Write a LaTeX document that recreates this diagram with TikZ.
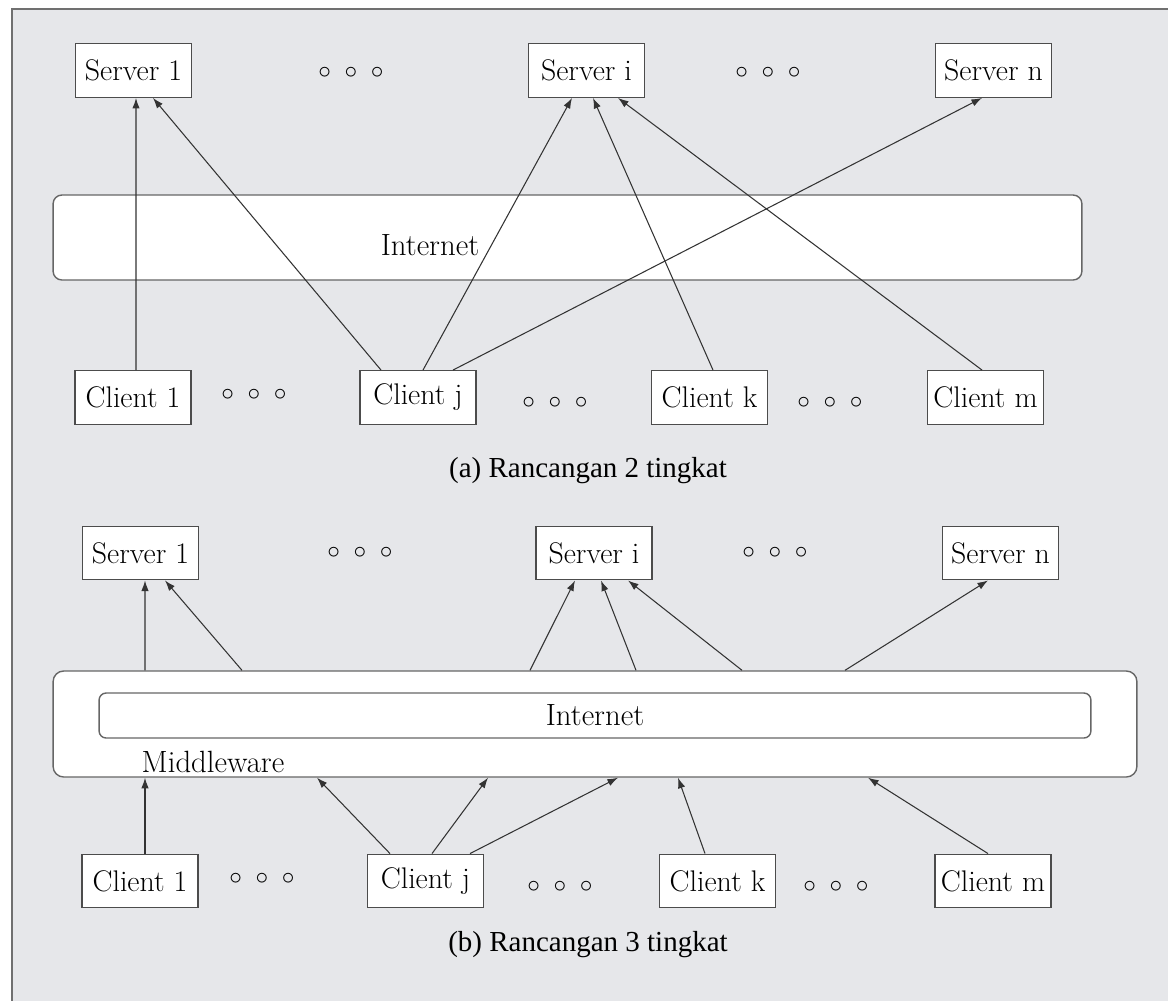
\documentclass[tikz,border=0pt]{standalone}
\usepackage{fontspec}
\newfontfamily\capfont{Liberation Serif}
\usetikzlibrary{arrows.meta,calc}
\definecolor{panel}{RGB}{230,231,234}
\definecolor{frame}{RGB}{112,112,112}
\begin{document}
\begin{tikzpicture}[
    x=0.02cm, y=-0.02cm,
    hostbox/.style={rectangle, draw=black!70, fill=white, line width=0.8pt,
                    minimum width=2.32cm, minimum height=1.07cm, inner sep=0pt,
                    font=\fontsize{17}{20}\selectfont},
    netbox/.style={rectangle, draw=black!60, fill=white, line width=0.8pt,
                   rounded corners=5pt, inner sep=0pt},
    txt/.style={font=\fontsize{17.5}{20}\selectfont, inner sep=0pt},
    ddd/.style={font=\fontsize{15}{18}\selectfont, inner sep=0pt},
    captxt/.style={font=\capfont\fontsize{16.5}{20}\selectfont, inner sep=0pt},
    link/.style={-{Latex[length=6pt,width=4.2pt]}, line width=0.6pt, black!80}
]
    \useasboundingbox (0,0) rectangle (1168,1001);
    \fill[panel] (11,9) rectangle (1168,1001);
    \draw[frame, line width=1.1pt] (11,9) -- (1168,9);
    \draw[frame, line width=1.7pt] (12,9) -- (12,1001);

    % (a) two tiers
    \node[hostbox] (s1a) at (133.5,70.5) {Server 1};
    \node[hostbox] (sia) at (586.5,70.5) {Server i};
    \node[hostbox] (sna) at (993.5,70.5) {Server n};
    \node[ddd] (sd1a) at (351,73) {$\circ\ \circ\ \circ$};
    \node[ddd] (sd2a) at (768,73) {$\circ\ \circ\ \circ$};

    \node[netbox, minimum width=20.58cm, minimum height=1.7cm] (neta) at (567.5,237.5) {};
    \node[txt] (neta-lbl) at (430,245) {Internet};

    \node[hostbox] (c1a) at (133,397.5) {Client 1};
    \node[hostbox] (cja) at (418,397.5) {Client j};
    \node[hostbox] (cka) at (709.5,397.5) {Client k};
    \node[hostbox] (cma) at (985.5,397.5) {Client m};
    \node[ddd] (cd1a) at (254,395) {$\circ\ \circ\ \circ$};
    \node[ddd] (cd2a) at (555,403) {$\circ\ \circ\ \circ$};
    \node[ddd] (cd3a) at (830,403) {$\circ\ \circ\ \circ$};
    \node[captxt] (capa) at (588,471) {(a) Rancangan 2 tingkat};

    \draw[link] ($(c1a.north)+(3,0)$) -- ($(s1a.south)+(2.5,0)$);
    \draw[link] ($(cja.north)+(-37,0)$) -- ($(s1a.south)+(19.5,0)$);
    \draw[link] ($(cja.north)+(5,0)$) -- ($(sia.south)+(-14.5,0)$);
    \draw[link] ($(cja.north)+(35,0)$) -- ($(sna.south)+(-11.5,0)$);
    \draw[link] ($(cka.north)+(3.5,0)$) -- ($(sia.south)+(6.5,0)$);
    \draw[link] ($(cma.north)+(-3.5,0)$) -- ($(sia.south)+(31.5,0)$);

    % (b) three tiers
    \node[hostbox] (s1b) at (140.5,553) {Server 1};
    \node[hostbox] (sib) at (594,553) {Server i};
    \node[hostbox] (snb) at (1000.5,553) {Server n};
    \node[ddd] (sd1b) at (360,553) {$\circ\ \circ\ \circ$};
    \node[ddd] (sd2b) at (775,553) {$\circ\ \circ\ \circ$};

    \node[netbox, rounded corners=6pt, minimum width=21.68cm, minimum height=2.12cm] (mw) at (595,724) {};
    \node[netbox, rounded corners=4pt, minimum width=19.84cm, minimum height=0.9cm] (netb) at (595,715.5) {};
    \node[txt] (netb-lbl) at (595,715) {Internet};
    \node[txt] (mw-lbl) at (213,762) {Middleware};

    \node[hostbox] (c1b) at (140,881) {Client 1};
    \node[hostbox] (cjb) at (425.5,881) {Client j};
    \node[hostbox] (ckb) at (717.5,881) {Client k};
    \node[hostbox] (cmb) at (993,881) {Client m};
    \node[ddd] (cd1b) at (262,879) {$\circ\ \circ\ \circ$};
    \node[ddd] (cd2b) at (560,887) {$\circ\ \circ\ \circ$};
    \node[ddd] (cd3b) at (836,887) {$\circ\ \circ\ \circ$};
    \node[captxt] (capb) at (588,945) {(b) Rancangan 3 tingkat};

    \draw[link] ($(mw.north)+(-450,0)$) -- ($(s1b.south)+(4.5,0)$);
    \draw[link] ($(mw.north)+(-353,0)$) -- ($(s1b.south)+(24.5,0)$);
    \draw[link] ($(mw.north)+(-65,0)$) -- ($(sib.south)+(-19,0)$);
    \draw[link] ($(mw.north)+(41,0)$) -- ($(sib.south)+(7,0)$);
    \draw[link] ($(mw.north)+(147,0)$) -- ($(sib.south)+(34,0)$);
    \draw[link] ($(mw.north)+(250,0)$) -- ($(snb.south)+(-12.5,0)$);

    \draw[link] ($(c1b.north)+(5,0)$) -- ($(mw.south)+(-450,0)$);
    \draw[link] ($(cjb.north)+(-35.5,0)$) -- ($(mw.south)+(-278,0)$);
    \draw[link] ($(cjb.north)+(6.5,0)$) -- ($(mw.south)+(-107,0)$);
    \draw[link] ($(cjb.north)+(44.5,0)$) -- ($(mw.south)+(23,0)$);
    \draw[link] ($(ckb.north)+(-12.5,0)$) -- ($(mw.south)+(83,0)$);
    \draw[link] ($(cmb.north)+(-5,0)$) -- ($(mw.south)+(273,0)$);
\end{tikzpicture}
\end{document}
